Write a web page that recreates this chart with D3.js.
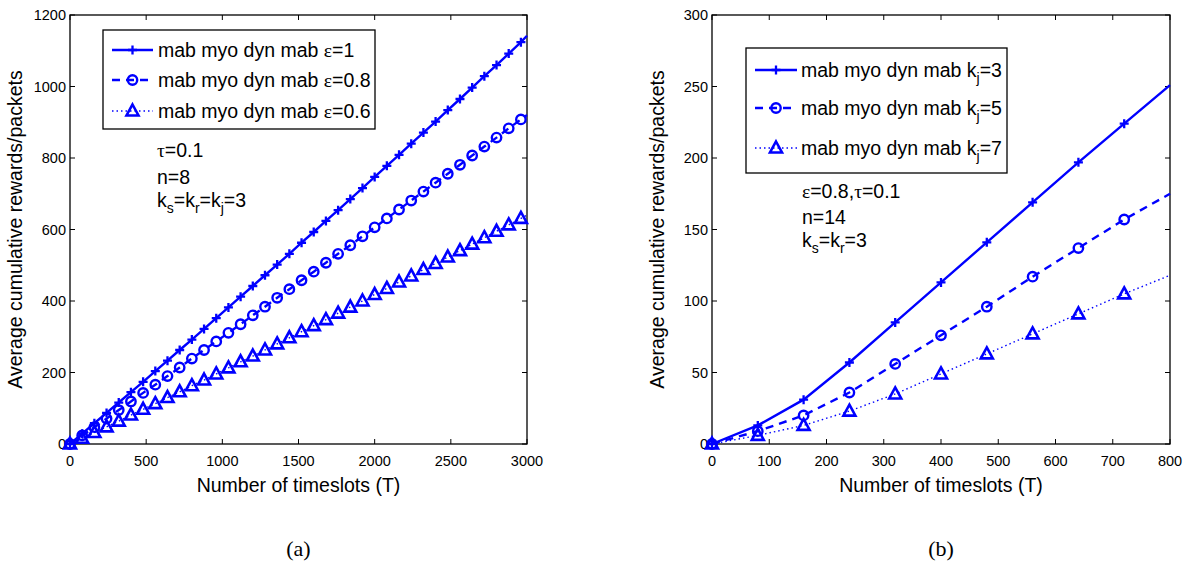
<!DOCTYPE html>
<html><head><meta charset="utf-8">
<script src="https://cdn.jsdelivr.net/npm/d3@7"></script>
<style>body{margin:0;background:#fff}</style></head>
<body><svg id="c" width="1188" height="565"></svg>
<script>
// ---- Panel (a) data ----
const timeA = [0,80,160,240,320,400,480,560,640,720,800,880,960,1040,1120,1200,1280,1360,1440,1520,1600,1680,1760,1840,1920,2000,2080,2160,2240,2320,2400,2480,2560,2640,2720,2800,2880,2960,3000];
const eps1  = [0,29,58,87,116,145,174,204,233,263,292,322,352,382,412,442,472,502,532,563,593,624,654,685,716,747,778,809,840,871,902,934,965,997,1029,1060,1092,1124,1142];
const eps08 = [0,24,47,71,95,119,143,166,190,214,239,263,287,311,335,360,384,409,433,458,482,507,532,556,581,606,631,656,681,706,731,756,781,807,832,857,883,908,920];
const eps06 = [0,16,32,48,64,81,97,113,130,146,163,179,196,213,230,246,263,280,297,314,331,348,366,383,400,418,435,453,470,488,505,523,541,559,577,595,613,631,640];
const ticksAx = [0,500,1000,1500,2000,2500,3000];
const ticksAy = [0,200,400,600,800,1000,1200];
const namesA = ["ε=1","ε=0.8","ε=0.6"];

// ---- Panel (b) data ----
const timeB = [0,80,160,240,320,400,480,560,640,720,800];
const kj3 = [0,13,31,57,85,113,141,169,197,224,251];
const kj5 = [0,9,20,36,56,76,96,117,137,157,175];
const kj7 = [0,6,13,23,35,49,63,77,91,105,118];
const ticksBx = [0,100,200,300,400,500,600,700,800];
const ticksBy = [0,50,100,150,200,250,300];
const namesB = ["3","5","7"];

const BLUE = "#0000ff";
const SANS = "'Liberation Sans', Arial, sans-serif";
const SERIF = "'Liberation Serif', 'Times New Roman', serif";
const FS = 19.5;
const svg = d3.select("#c");

const styles = [
  {dash:null, width:2.4, marker:"plus"},
  {dash:"8,6", width:2.4, marker:"circle"},
  {dash:"1.5,3", width:1.4, marker:"tri"}
];

function drawMarker(g, type, x, y) {
  if (type === "plus") {
    g.append("path").attr("d", `M${x-4.5},${y}H${x+4.5}M${x},${y-4.5}V${y+4.5}`)
      .attr("stroke", BLUE).attr("stroke-width", 2.3).attr("fill","none");
  } else if (type === "circle") {
    g.append("circle").attr("cx", x).attr("cy", y).attr("r", 4.7)
      .attr("stroke", BLUE).attr("stroke-width", 2.4).attr("fill","none");
  } else {
    g.append("path").attr("d", `M${x},${y-6.5}L${x+6},${y+4.5}L${x-6},${y+4.5}Z`)
      .attr("stroke", BLUE).attr("stroke-width", 2.6).attr("fill","none").attr("stroke-linejoin","miter");
  }
}

function panel(opt) {
  const {x0,x1,y0,y1,xmax,ymax,xt,yt,times,series} = opt;
  const x = d3.scaleLinear().domain([0,xmax]).range([x0,x1]);
  const y = d3.scaleLinear().domain([0,ymax]).range([y1,y0]);
  const g = svg.append("g");
  g.append("rect").attr("x",x0).attr("y",y0).attr("width",x1-x0).attr("height",y1-y0)
    .attr("fill","none").attr("stroke","#000").attr("stroke-width",1.3);
  const tl = 5;
  xt.forEach(v => {
    g.append("line").attr("x1",x(v)).attr("x2",x(v)).attr("y1",y1).attr("y2",y1-tl).attr("stroke","#000");
    g.append("line").attr("x1",x(v)).attr("x2",x(v)).attr("y1",y0).attr("y2",y0+tl).attr("stroke","#000");
    g.append("text").attr("x",x(v)).attr("y",y1+22).attr("text-anchor","middle")
      .attr("font-family",SANS).attr("font-size",14.5).text(v);
  });
  yt.forEach(v => {
    g.append("line").attr("y1",y(v)).attr("y2",y(v)).attr("x1",x0).attr("x2",x0+tl).attr("stroke","#000");
    g.append("line").attr("y1",y(v)).attr("y2",y(v)).attr("x1",x1).attr("x2",x1-tl).attr("stroke","#000");
    g.append("text").attr("x",x0-4).attr("y",y(v)+5).attr("text-anchor","end")
      .attr("font-family",SANS).attr("font-size",14.5).text(v);
  });
  series.forEach((vals,i) => {
    const st = styles[i];
    const line = d3.line().x((d,j)=>x(times[j])).y(d=>y(d));
    g.append("path").attr("d", line(vals)).attr("fill","none").attr("stroke",BLUE)
      .attr("stroke-width",st.width).attr("stroke-dasharray",st.dash);
    vals.forEach((v,j) => { if (j < vals.length-1) drawMarker(g, st.marker, x(times[j]), y(v)); });
  });
  g.append("text").attr("x",(x0+x1)/2).attr("y",y1+48).attr("text-anchor","middle")
    .attr("font-family",SANS).attr("font-size",FS).text("Number of timeslots (T)");
  g.append("text").attr("transform",`translate(${x0-48},${(y0+y1)/2}) rotate(-90)`)
    .attr("text-anchor","middle").attr("font-family",SANS).attr("font-size",FS)
    .text("Average cumulative rewards/packets");
  g.append("text").attr("x",(x0+x1)/2).attr("y",556).attr("text-anchor","middle")
    .attr("font-family",SERIF).attr("font-size",22).text(opt.caption);
  return g;
}

function txt(g, x, y, parts) {
  const t = g.append("text").attr("x",x).attr("y",y).attr("font-family",SANS).attr("font-size",FS);
  parts.forEach(p => {
    const s = t.append("tspan").text(p.t);
    if (p.serif) s.attr("font-family",SERIF);
    if (p.sub) s.attr("font-size",14).attr("dy",6);
    if (p.up) s.attr("dy",-6);
  });
}

// Panel a
const gA = panel({x0:70,x1:527,y0:15,y1:444,xmax:3000,ymax:1200,xt:ticksAx,yt:ticksAy,
  times:timeA, series:[eps1,eps08,eps06], caption:"(a)"});
gA.append("rect").attr("x",103).attr("y",30).attr("width",272).attr("height",99)
  .attr("fill","#fff").attr("stroke","#000").attr("stroke-width",1.3);
[50,80,111].forEach((cy,i) => {
  const st = styles[i];
  gA.append("line").attr("x1",112).attr("x2",153).attr("y1",cy).attr("y2",cy).attr("stroke",BLUE)
    .attr("stroke-width",st.width).attr("stroke-dasharray",st.dash);
  drawMarker(gA, st.marker, 132.5, cy);
  txt(gA,158,cy+7,[{t:"mab myo dyn mab "},{t:"ε",serif:true},{t:namesA[i].slice(1)}]);
});
txt(gA,157,157,[{t:"τ",serif:true},{t:"=0.1"}]);
txt(gA,157,184,[{t:"n=8"}]);
txt(gA,157,207,[{t:"k"},{t:"s",sub:true},{t:"=k",up:true},{t:"r",sub:true},{t:"=k",up:true},{t:"j",sub:true},{t:"=3",up:true}]);

// Panel b
const gB = panel({x0:712,x1:1170,y0:15,y1:444,xmax:800,ymax:300,xt:ticksBx,yt:ticksBy,
  times:timeB, series:[kj3,kj5,kj7], caption:"(b)"});
gB.append("rect").attr("x",746).attr("y",48).attr("width",261).attr("height",125)
  .attr("fill","#fff").attr("stroke","#000").attr("stroke-width",1.3);
[70,108,148].forEach((cy,i) => {
  const st = styles[i];
  gB.append("line").attr("x1",755).attr("x2",797).attr("y1",cy).attr("y2",cy).attr("stroke",BLUE)
    .attr("stroke-width",st.width).attr("stroke-dasharray",st.dash);
  drawMarker(gB, st.marker, 776, cy);
  txt(gB,801,cy+7,[{t:"mab myo dyn mab k"},{t:"j",sub:true},{t:"="+namesB[i],up:true}]);
});
txt(gB,802,198,[{t:"ε",serif:true},{t:"=0.8,"},{t:"τ",serif:true},{t:"=0.1"}]);
txt(gB,802,224,[{t:"n=14"}]);
txt(gB,802,247,[{t:"k"},{t:"s",sub:true},{t:"=k",up:true},{t:"r",sub:true},{t:"=3",up:true}]);
</script>
</body></html>
